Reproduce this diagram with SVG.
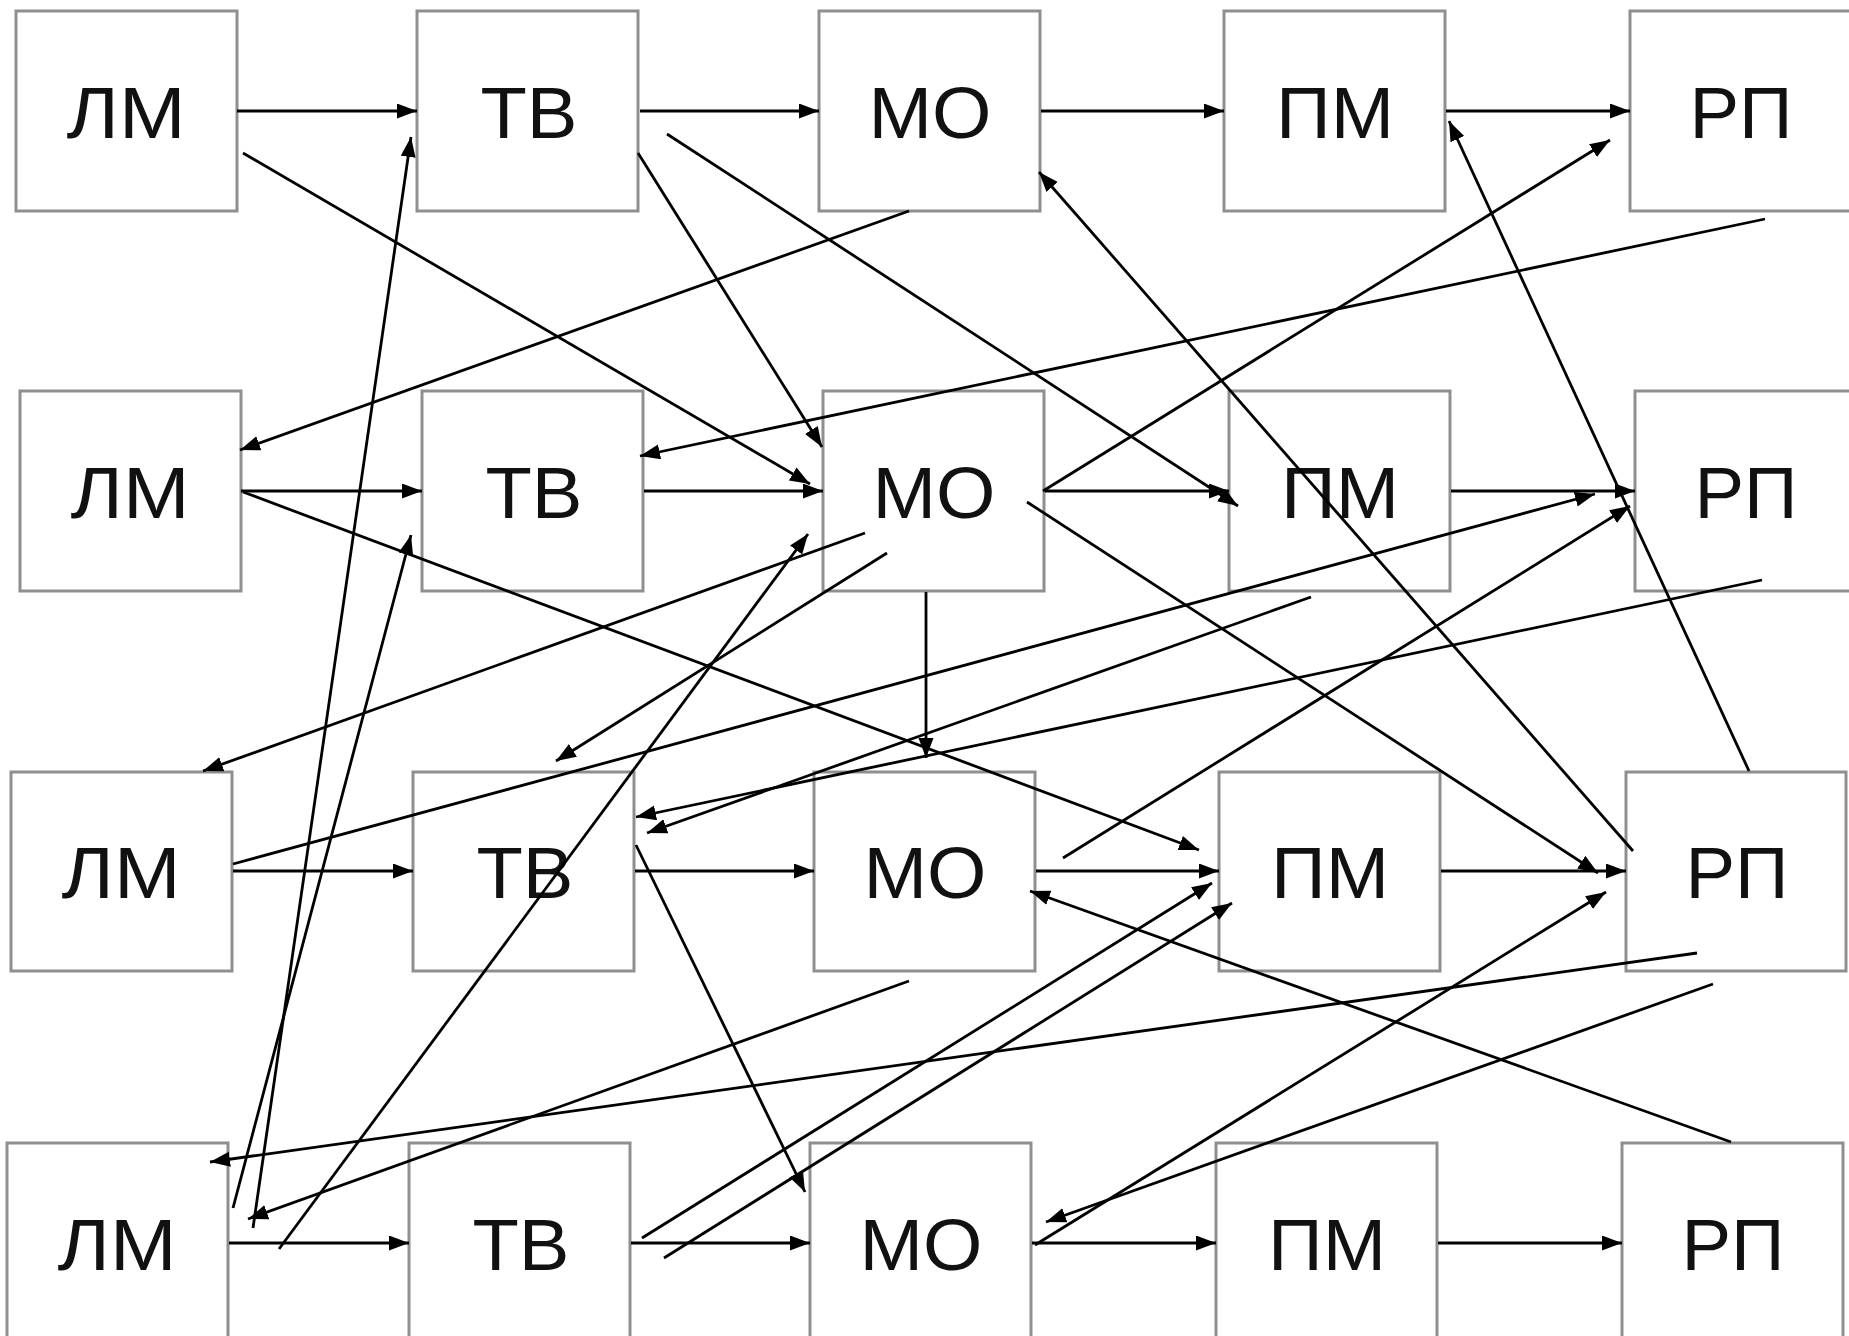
<svg xmlns="http://www.w3.org/2000/svg" width="1849" height="1336" viewBox="0 0 1849 1336">
<defs>
<marker id="ah" markerUnits="userSpaceOnUse" markerWidth="22" markerHeight="16" refX="20" refY="7.5" orient="auto">
<path d="M0,0 L20,7.5 L0,15 z" fill="#000"/>
</marker>
<style>
.box{fill:#fff;stroke:#8f8f8f;stroke-width:3}
.lbl{font-family:"Liberation Sans",Arial,sans-serif;font-size:73px;fill:#111;text-anchor:middle}
.c line{stroke:#000;stroke-width:2.8;marker-end:url(#ah)}
</style>
</defs>
<rect width="1849" height="1336" fill="#fff"/>
<g id="nodes">
<g id="lm1"><rect class="box" x="16" y="11" width="221" height="200"/><text class="lbl" x="126" y="138" textLength="119" lengthAdjust="spacingAndGlyphs">ЛМ</text></g>
<g id="tv1"><rect class="box" x="417" y="11" width="221" height="200"/><text class="lbl" x="529" y="138" textLength="97" lengthAdjust="spacingAndGlyphs">ТВ</text></g>
<g id="mo1"><rect class="box" x="819" y="11" width="221" height="200"/><text class="lbl" x="930" y="138" textLength="123" lengthAdjust="spacingAndGlyphs">МО</text></g>
<g id="pm1"><rect class="box" x="1224" y="11" width="221" height="200"/><text class="lbl" x="1335" y="138" textLength="118" lengthAdjust="spacingAndGlyphs">ПМ</text></g>
<g id="rp1"><rect class="box" x="1630" y="11" width="221" height="200"/><text class="lbl" x="1741" y="138" textLength="103" lengthAdjust="spacingAndGlyphs">РП</text></g>

<g id="lm2"><rect class="box" x="20" y="391" width="221" height="200"/><text class="lbl" x="130" y="518" textLength="119" lengthAdjust="spacingAndGlyphs">ЛМ</text></g>
<g id="tv2"><rect class="box" x="422" y="391" width="221" height="200"/><text class="lbl" x="534" y="518" textLength="97" lengthAdjust="spacingAndGlyphs">ТВ</text></g>
<g id="mo2"><rect class="box" x="823" y="391" width="221" height="200"/><text class="lbl" x="934" y="518" textLength="123" lengthAdjust="spacingAndGlyphs">МО</text></g>
<g id="pm2"><rect class="box" x="1229" y="391" width="221" height="200"/><text class="lbl" x="1340" y="518" textLength="118" lengthAdjust="spacingAndGlyphs">ПМ</text></g>
<g id="rp2"><rect class="box" x="1635" y="391" width="221" height="200"/><text class="lbl" x="1746" y="518" textLength="103" lengthAdjust="spacingAndGlyphs">РП</text></g>

<g id="lm3"><rect class="box" x="11" y="772" width="221" height="199"/><text class="lbl" x="121" y="898" textLength="119" lengthAdjust="spacingAndGlyphs">ЛМ</text></g>
<g id="tv3"><rect class="box" x="413" y="772" width="221" height="199"/><text class="lbl" x="525" y="898" textLength="97" lengthAdjust="spacingAndGlyphs">ТВ</text></g>
<g id="mo3"><rect class="box" x="814" y="772" width="221" height="199"/><text class="lbl" x="925" y="898" textLength="123" lengthAdjust="spacingAndGlyphs">МО</text></g>
<g id="pm3"><rect class="box" x="1219" y="772" width="221" height="199"/><text class="lbl" x="1330" y="898" textLength="118" lengthAdjust="spacingAndGlyphs">ПМ</text></g>
<g id="rp3"><rect class="box" x="1626" y="772" width="220" height="199"/><text class="lbl" x="1737" y="898" textLength="103" lengthAdjust="spacingAndGlyphs">РП</text></g>

<g id="lm4"><rect class="box" x="7" y="1143" width="221" height="200"/><text class="lbl" x="117" y="1270" textLength="119" lengthAdjust="spacingAndGlyphs">ЛМ</text></g>
<g id="tv4"><rect class="box" x="409" y="1143" width="221" height="200"/><text class="lbl" x="521" y="1270" textLength="97" lengthAdjust="spacingAndGlyphs">ТВ</text></g>
<g id="mo4"><rect class="box" x="810" y="1143" width="221" height="200"/><text class="lbl" x="921" y="1270" textLength="123" lengthAdjust="spacingAndGlyphs">МО</text></g>
<g id="pm4"><rect class="box" x="1216" y="1143" width="221" height="200"/><text class="lbl" x="1327" y="1270" textLength="118" lengthAdjust="spacingAndGlyphs">ПМ</text></g>
<g id="rp4"><rect class="box" x="1622" y="1143" width="221" height="200"/><text class="lbl" x="1733" y="1270" textLength="103" lengthAdjust="spacingAndGlyphs">РП</text></g>
</g>
<g id="connectors" class="c">
<line x1="237" y1="111" x2="417" y2="111"/>
<line x1="640" y1="111" x2="819" y2="111"/>
<line x1="1041" y1="111" x2="1224" y2="111"/>
<line x1="1446" y1="111" x2="1630" y2="111"/>
<line x1="241" y1="491" x2="422" y2="491"/>
<line x1="644" y1="491" x2="823" y2="491"/>
<line x1="1045" y1="491" x2="1229" y2="491"/>
<line x1="1451" y1="491" x2="1635" y2="491"/>
<line x1="233" y1="871" x2="413" y2="871"/>
<line x1="635" y1="871" x2="814" y2="871"/>
<line x1="1036" y1="871" x2="1219" y2="871"/>
<line x1="1441" y1="871" x2="1626" y2="871"/>
<line x1="229" y1="1243" x2="409" y2="1243"/>
<line x1="631" y1="1243" x2="810" y2="1243"/>
<line x1="1032" y1="1243" x2="1216" y2="1243"/>
<line x1="1438" y1="1243" x2="1622" y2="1243"/>

<line x1="243" y1="153" x2="810" y2="484"/>
<line x1="638" y1="153" x2="822" y2="447"/>
<line x1="667" y1="134" x2="1238" y2="506"/>
<line x1="909" y1="211" x2="240" y2="450"/>
<line x1="1765" y1="219" x2="640" y2="456"/>
<line x1="1043" y1="491" x2="1610" y2="140"/>
<line x1="1749" y1="771" x2="1449" y2="121"/>
<line x1="1633" y1="851" x2="1039" y2="172"/>
<line x1="1027" y1="502" x2="1598" y2="873"/>
<line x1="243" y1="492" x2="1199" y2="850"/>
<line x1="253" y1="1228" x2="411" y2="137"/>
<line x1="233" y1="1208" x2="411" y2="535"/>
<line x1="279" y1="1249" x2="808" y2="534"/>
<line x1="865" y1="533" x2="203" y2="771"/>
<line x1="887" y1="553" x2="556" y2="761"/>
<line x1="926" y1="592" x2="926" y2="758"/>
<line x1="233" y1="864" x2="1595" y2="494"/>
<line x1="1311" y1="597" x2="647" y2="833"/>
<line x1="1762" y1="580" x2="636" y2="817"/>
<line x1="636" y1="845" x2="805" y2="1192"/>
<line x1="1063" y1="858" x2="1630" y2="506"/>
<line x1="1731" y1="1142" x2="1030" y2="891"/>
<line x1="909" y1="981" x2="248" y2="1219"/>
<line x1="1697" y1="953" x2="210" y2="1162"/>
<line x1="1713" y1="984" x2="1046" y2="1222"/>
<line x1="1035" y1="1245" x2="1606" y2="892"/>
<line x1="642" y1="1238" x2="1212" y2="883"/>
<line x1="664" y1="1258" x2="1232" y2="903"/>
</g>
</svg>
